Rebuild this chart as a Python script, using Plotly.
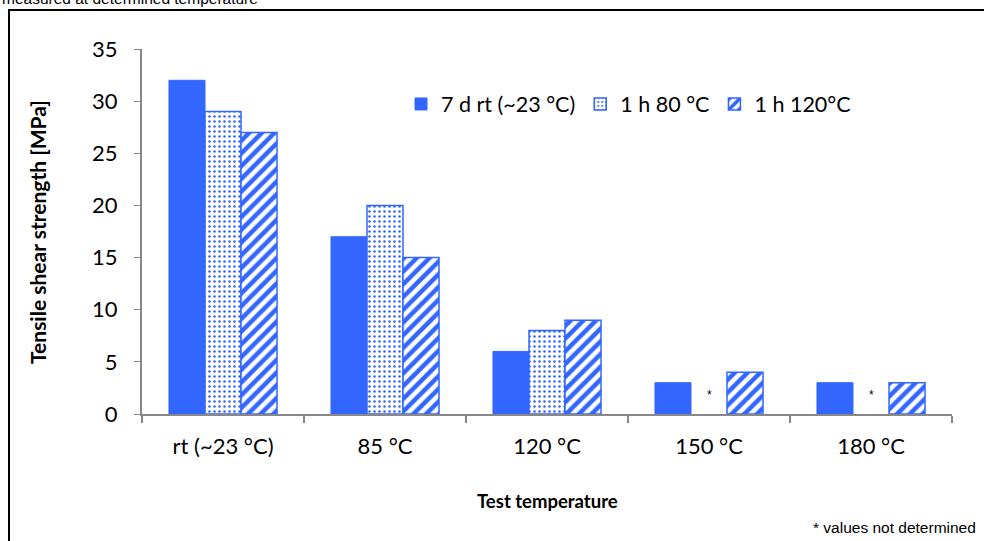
import plotly.graph_objects as go

categories = ["rt (~23 °C)", "85 °C", "120 °C", "150 °C", "180 °C"]
series_names = ["7 d rt (~23 °C)", "1 h 80 °C", "1 h 120°C"]
vals_7d = [32, 17, 6, 3, 3]
vals_80 = [29, 20, 8, None, None]
vals_120 = [27, 15, 9, 4, 3]
not_determined = ["150 °C", "180 °C"]

BLUE = "#3366FF"
L, R, T, B = 142, 32, 49, 127
W, H = 984, 541
pw, ph = W - L - R, H - T - B

def px(x):
    return (x - L) / pw

def py(y):
    return (H - B - y) / ph

FONT = "Lato, Open Sans, sans-serif"
ARIAL = "Liberation Sans, Arial, sans-serif"

fig = go.Figure()
fig.add_trace(go.Bar(x=categories, y=vals_7d, name=series_names[0],
                     marker=dict(color=BLUE, line=dict(color=BLUE, width=1))))
fig.add_trace(go.Bar(x=categories, y=vals_80, name=series_names[1],
                     marker=dict(color="white", line=dict(color=BLUE, width=1.5),
                                 pattern=dict(shape=".", fgcolor=BLUE, bgcolor="white",
                                              fgopacity=1, size=5, solidity=0.2))))
fig.add_trace(go.Bar(x=categories, y=vals_120, name=series_names[2],
                     marker=dict(color="white", line=dict(color=BLUE, width=1.5),
                                 pattern=dict(shape="/", fgcolor=BLUE, bgcolor="white",
                                              fgopacity=1, size=9, solidity=0.5))))

for c in not_determined:
    fig.add_annotation(x=c, y=1.8, xref="x", yref="y", text="*", showarrow=False,
                       font=dict(family=ARIAL, size=12, color="black"))

fig.add_annotation(x=px(0), y=py(-1), xref="paper", yref="paper", xanchor="left",
                   yanchor="middle", text="measured at determined temperature",
                   showarrow=False, font=dict(family=ARIAL, size=15.5, color="black"))
fig.add_annotation(x=px(978), y=py(527), xref="paper", yref="paper", xanchor="right",
                   yanchor="middle", text="* values not determined", showarrow=False,
                   font=dict(family=ARIAL, size=15.5, color="black"))
fig.add_annotation(x=px(547), y=py(501), xref="paper", yref="paper", xanchor="center",
                   yanchor="middle", text="<b>Test temperature</b>", showarrow=False,
                   font=dict(family=FONT, size=18.5, color="black"))
fig.add_annotation(x=px(37), y=py(232), xref="paper", yref="paper", xanchor="center",
                   yanchor="middle", text="<b>Tensile shear strength [MPa]</b>",
                   textangle=-90, showarrow=False,
                   font=dict(family=FONT, size=21, color="black"))

fig.add_shape(type="rect", xref="paper", yref="paper",
              x0=px(9), y0=py(570), x1=px(1010), y1=py(10),
              line=dict(color="black", width=2), fillcolor="rgba(0,0,0,0)", layer="above")

fig.update_layout(
    width=W, height=H,
    margin=dict(l=L, r=R, t=T, b=B),
    paper_bgcolor="white", plot_bgcolor="white",
    barmode="group", bargap=0.333, bargroupgap=0,
    font=dict(family=FONT, size=22, color="black"),
    legend=dict(orientation="h", x=px(401), y=py(104), xanchor="left", yanchor="middle",
                font=dict(family=FONT, size=21.5), bgcolor="rgba(0,0,0,0)",
                itemwidth=30, tracegroupgap=0),
    showlegend=True,
)
fig.update_xaxes(showline=True, linecolor="#888888", linewidth=2, ticks="outside",
                 tickson="boundaries", ticklen=7, tickcolor="#888888", tickwidth=2,
                 showgrid=False, ticklabelstandoff=12,
                 tickfont=dict(family=FONT, size=22))
fig.update_yaxes(range=[0, 35], dtick=5, showline=True, linecolor="#888888", linewidth=2,
                 ticks="outside", ticklen=6, tickcolor="#888888", tickwidth=1,
                 showgrid=False, zeroline=False, ticklabelstandoff=12,
                 tickfont=dict(family=FONT, size=22))

fig.write_html("out.html", config={"displayModeBar": False},
               post_script="document.body.style.margin='0';")
